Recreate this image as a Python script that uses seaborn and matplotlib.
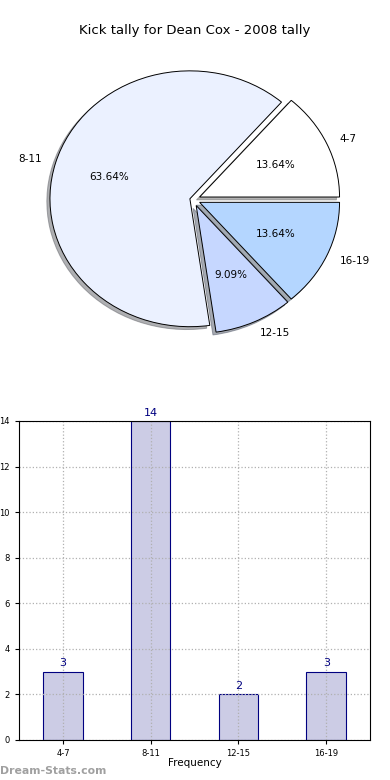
import numpy as np
import pandas as pd
import seaborn as sns
import matplotlib
matplotlib.use("Agg")
import matplotlib.pyplot as plt

# Data
categories = ["4-7", "8-11", "12-15", "16-19"]
counts = [3, 14, 2, 3]
pie_colors = ["#ffffff", "#ebf1ff", "#c6d7ff", "#b4d6ff"]

title = "Kick tally for Dean Cox - 2008 tally"
bar_xlabel = "Frequency"
bar_ylabel = "Distribution"

df = pd.DataFrame({"range": categories, "count": counts})

fig = plt.figure(figsize=(3.9, 7.8), dpi=100)

# Pie chart (top)
ax1 = fig.add_axes([0.047, 0.539, 0.897, 0.41])
ax1.pie(df["count"], labels=df["range"], colors=pie_colors,
        explode=[0.05, 0.025, 0.05, 0.05], autopct="%.2f%%",
        shadow={"ox": -0.016, "oy": -0.016, "shade": 0.6},
        startangle=0, wedgeprops={"edgecolor": "black", "linewidth": 0.7},
        textprops={"fontsize": 7.5})
ax1.set_aspect("auto")
ax1.set_xlim(-1.25, 1.25)
ax1.set_ylim(-1.25, 1.25)
fig.text(0.5, 0.961, title, ha="center", va="center", fontsize=9.5)

# Bar chart (bottom)
ax2 = fig.add_axes([0.049, 0.0513, 0.9, 0.409])
sns.barplot(data=df, x="range", y="count", ax=ax2, color="#ccccE5",
            edgecolor="navy", linewidth=0.8, width=0.45, saturation=1)
ax2.set_xlim(-0.5, 3.5)
ax2.set_ylim(0, 14)
ax2.set_yticks(np.arange(0, 15, 2))
ax2.tick_params(labelsize=6, length=3)
ax2.grid(True, linestyle=":", color="#b0b0b0", linewidth=0.9)
ax2.set_axisbelow(False)
for i, v in enumerate(counts):
    ax2.text(i, v + 0.15, str(v), ha="center", va="bottom", color="navy", fontsize=8)
ax2.set_xlabel(bar_xlabel, fontsize=7.5, labelpad=0)
ax2.set_ylabel(bar_ylabel, fontsize=7.5)
ax2.yaxis.set_label_coords(-0.062, 0.5)
for s in ax2.spines.values():
    s.set_linewidth(0.8)
    s.set_zorder(5)

fig.text(0.0, 0.012, "Dream-Stats.com", fontsize=7.8, color="#a0a0a0",
         fontweight="bold", ha="left", va="center")

fig.savefig("out.png", dpi=100)
